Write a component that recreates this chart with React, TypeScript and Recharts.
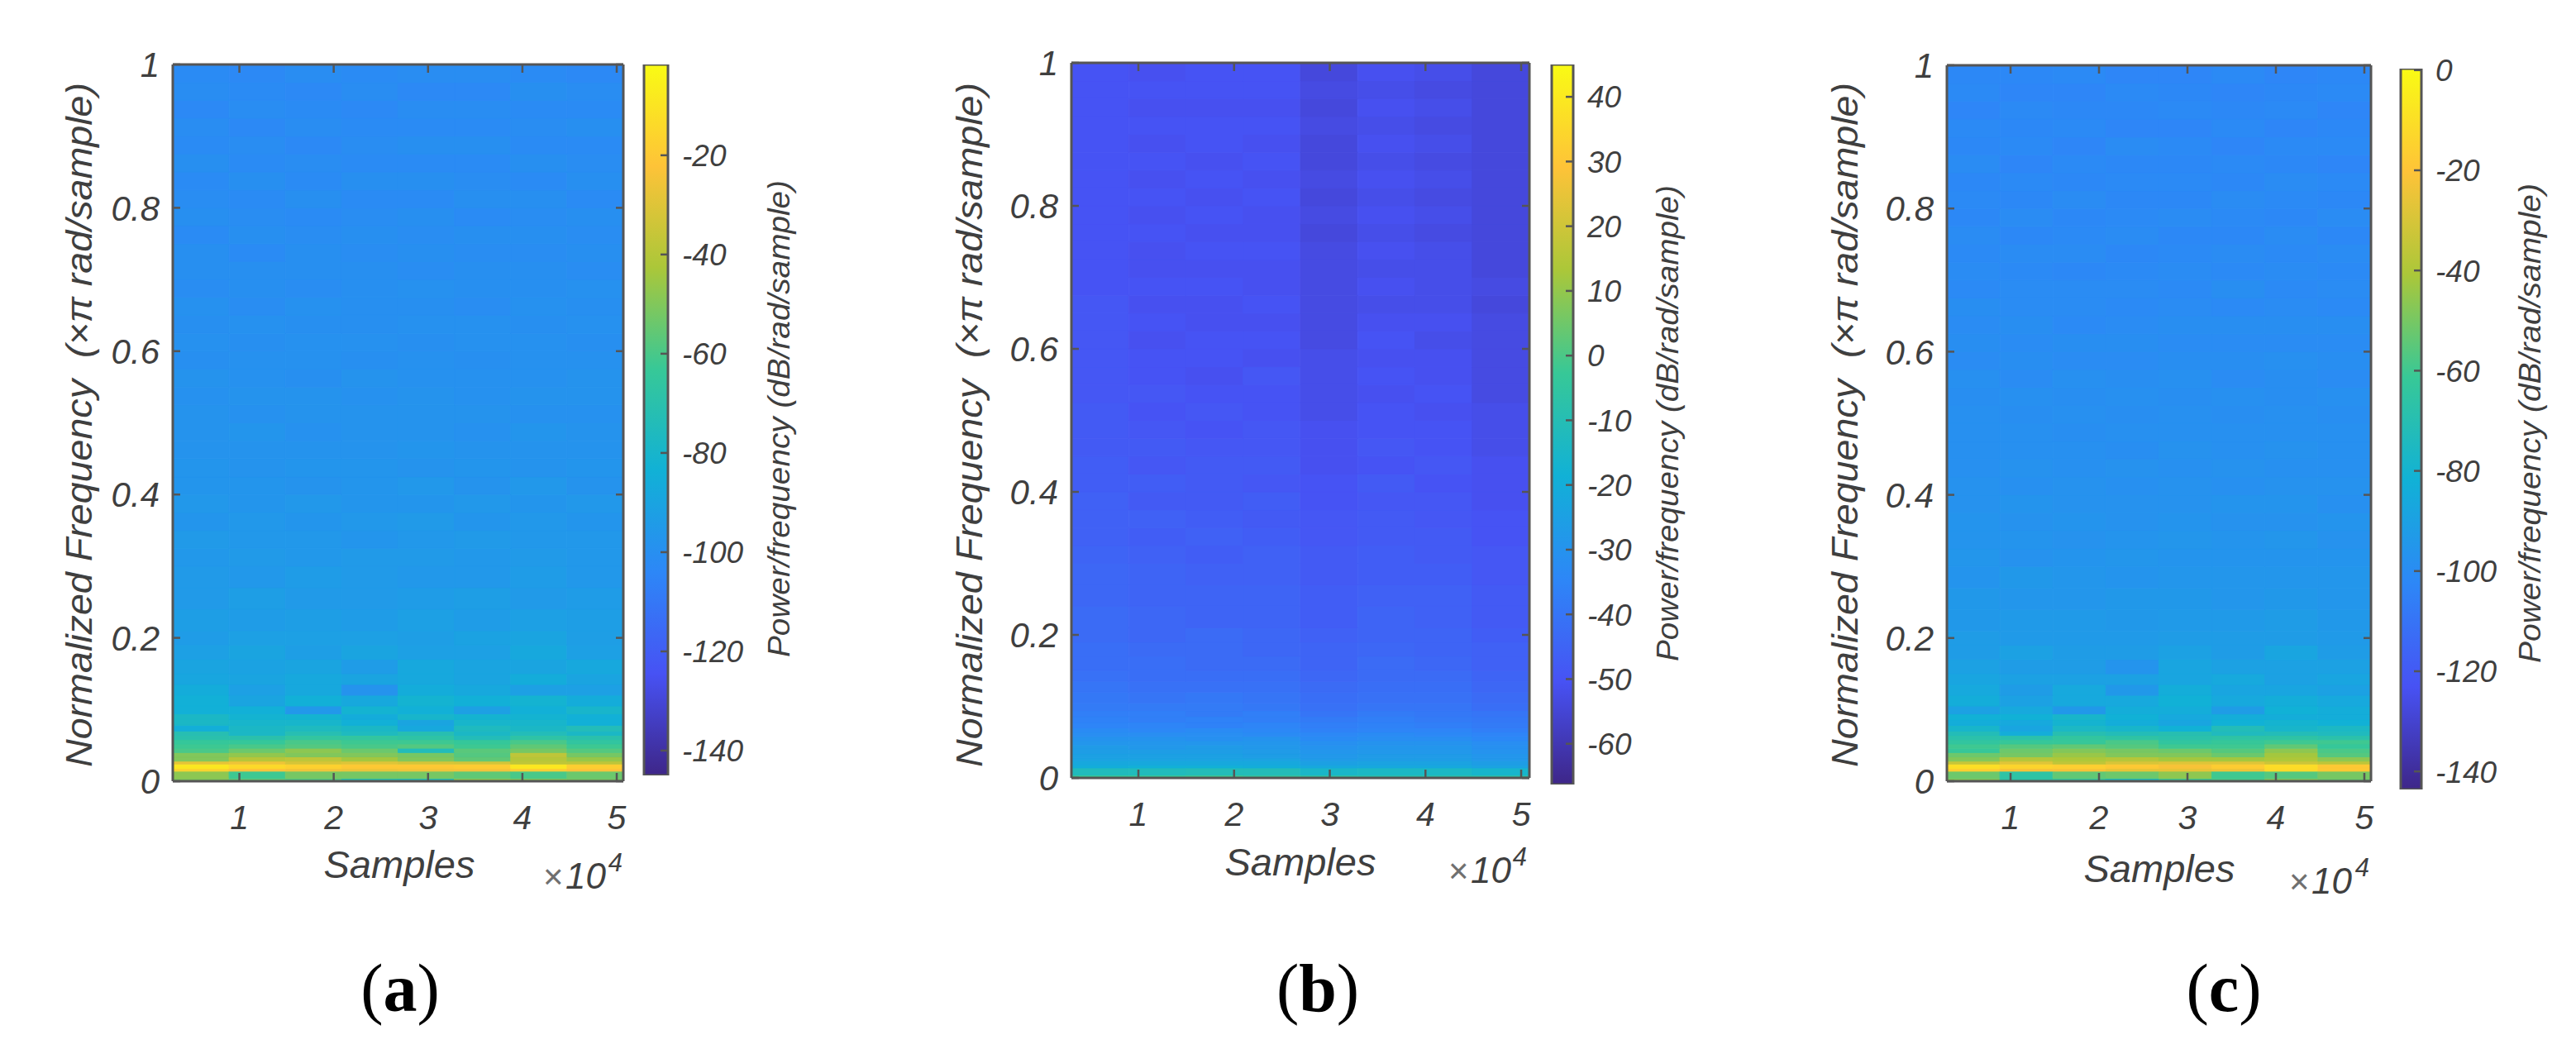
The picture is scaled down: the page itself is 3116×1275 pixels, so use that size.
import React from "react";
import { ComposedChart, Bar, Cell, XAxis, YAxis, Label } from "recharts";

const PARULA = ["#3E2688", "#4752F4", "#2D87F7", "#11B1D6", "#37C897", "#ABC739", "#FEC338", "#F9FB14"];
const FREQ_EDGES = [0, 0.004, 0.014, 0.018, 0.024, 0.028, 0.034, 0.04, 0.046, 0.052, 0.058, 0.064, 0.07, 0.078, 0.086, 0.094, 0.105, 0.12, 0.135, 0.15, 0.17, 0.19, 0.21, 0.24, 0.27, 0.3, 0.325, 0.35, 0.375, 0.4, 0.425, 0.45, 0.475, 0.5, 0.525, 0.55, 0.575, 0.6, 0.625, 0.65, 0.675, 0.7, 0.725, 0.75, 0.775, 0.8, 0.825, 0.85, 0.875, 0.9, 0.925, 0.95, 0.975, 1];
const COLUMNS = ["c1", "c2", "c3", "c4", "c5", "c6", "c7", "c8"];
const SAMPLE_CENTERS = [0.59, 1.19, 1.79, 2.39, 2.98, 3.58, 4.18, 4.77];
const X_TICKS = [1, 2, 3, 4, 5];
const Y_TICKS = [0, 0.2, 0.4, 0.6, 0.8, 1];
const COLORBAR_TICKS_A = [-140, -120, -100, -80, -60, -40, -20];
const COLORBAR_TICKS_B = [-60, -50, -40, -30, -20, -10, 0, 10, 20, 30, 40];
const COLORBAR_TICKS_C = [-140, -120, -100, -80, -60, -40, -20, 0];

const POWER_A = [
  [-50, -56, -58, -70, -72, -48, -50, -52],
  [-48, -62, -52, -52, -52, -56, -60, -54],
  [-16, -22, -25, -26, -25, -24, -18, -22],
  [-9, -14, -17, -20, -20, -19, -9, -18],
  [-28, -26, -32, -30, -32, -33, -38, -38],
  [-50, -40, -38, -44, -50, -56, -40, -46],
  [-50, -47, -50, -50, -52, -58, -38, -52],
  [-60, -54, -48, -54, -74, -57, -52, -58],
  [-62, -60, -58, -60, -58, -62, -56, -62],
  [-64, -64, -60, -62, -62, -64, -60, -66],
  [-70, -70, -66, -66, -68, -74, -68, -70],
  [-72, -78, -72, -76, -72, -78, -74, -78],
  [-85, -78, -76, -78, -88, -76, -78, -74],
  [-78, -80, -80, -84, -90, -80, -80, -84],
  [-78, -82, -82, -86, -80, -82, -82, -84],
  [-84, -84, -96, -82, -84, -92, -84, -80],
  [-84, -90, -84, -88, -82, -84, -82, -86],
  [-86, -92, -88, -98, -86, -88, -92, -92],
  [-89, -90, -88, -90, -88, -90, -86, -90],
  [-90, -91, -90, -94, -88, -90, -90, -88],
  [-92, -90, -93, -90, -92, -92, -88, -92],
  [-94, -92, -92, -92, -93, -91, -90, -93],
  [-93, -94, -93, -94, -92, -94, -92, -93],
  [-95, -93, -95, -95, -94, -93, -95, -94],
  [-95, -96, -94, -95, -96, -96, -94, -96],
  [-96, -95, -96, -95, -95, -96, -95, -96],
  [-95, -96, -96, -97, -96, -95, -96, -96],
  [-97, -96, -97, -96, -95, -97, -96, -97],
  [-96, -97, -96, -97, -97, -96, -97, -96],
  [-97, -97, -98, -97, -96, -98, -96, -98],
  [-97, -98, -97, -97, -98, -97, -98, -97],
  [-98, -98, -98, -98, -97, -98, -98, -98],
  [-98, -97, -99, -98, -98, -99, -97, -98],
  [-98, -99, -98, -98, -98, -98, -99, -99],
  [-99, -98, -98, -99, -98, -99, -98, -98],
  [-98, -99, -100, -98, -99, -99, -99, -98],
  [-100, -99, -99, -100, -99, -100, -99, -99],
  [-99, -100, -99, -99, -100, -99, -99, -100],
  [-100, -99, -100, -100, -99, -99, -100, -99],
  [-99, -101, -99, -100, -100, -101, -99, -100],
  [-101, -100, -101, -100, -99, -100, -100, -99],
  [-100, -100, -100, -100, -101, -100, -100, -101],
  [-100, -102, -100, -101, -100, -101, -101, -100],
  [-102, -100, -101, -100, -101, -100, -100, -101],
  [-100, -101, -102, -101, -100, -102, -101, -100],
  [-101, -102, -100, -102, -102, -100, -100, -102],
  [-102, -100, -102, -100, -100, -101, -102, -100],
  [-100, -102, -101, -102, -102, -102, -100, -101],
  [-102, -101, -103, -101, -100, -100, -102, -102],
  [-101, -103, -101, -102, -102, -102, -101, -100],
  [-103, -101, -102, -103, -101, -101, -102, -102],
  [-101, -102, -103, -101, -103, -103, -100, -101],
  [-102, -103, -101, -102, -101, -101, -102, -103],
];

const POWER_B = [
  [-3, -3, -2, -4, -6, -8, -8, -8],
  [-12, -12, -11, -11, -15, -14, -14, -16],
  [-20, -19, -19, -20, -22, -22, -22, -24],
  [-22, -22, -22, -22, -25, -24, -24, -26],
  [-24, -24, -24, -24, -27, -26, -26, -28],
  [-25, -25, -25, -26, -28, -27, -27, -29],
  [-26, -26, -26, -27, -29, -28, -28, -30],
  [-27, -28, -27, -28, -30, -29, -29, -31],
  [-29, -29, -29, -29, -31, -30, -30, -32],
  [-30, -30, -31, -30, -33, -32, -32, -34],
  [-32, -32, -32, -33, -34, -33, -34, -35],
  [-33, -34, -33, -34, -36, -35, -35, -37],
  [-35, -35, -36, -35, -37, -36, -37, -38],
  [-36, -37, -36, -37, -38, -37, -38, -39],
  [-37, -37, -38, -37, -40, -38, -39, -40],
  [-38, -38, -38, -39, -41, -40, -40, -42],
  [-39, -40, -39, -40, -42, -41, -41, -43],
  [-40, -41, -41, -41, -43, -42, -42, -44],
  [-41, -42, -42, -42, -44, -43, -43, -45],
  [-42, -42, -43, -43, -45, -43, -44, -46],
  [-42, -43, -43, -44, -45, -44, -45, -46],
  [-43, -44, -43, -44, -46, -45, -45, -47],
  [-43, -44, -45, -45, -47, -45, -46, -48],
  [-44, -45, -45, -45, -47, -46, -46, -48],
  [-44, -45, -46, -46, -48, -47, -47, -49],
  [-45, -46, -47, -46, -48, -47, -48, -49],
  [-46, -47, -46, -47, -49, -48, -48, -50],
  [-46, -46, -47, -48, -49, -48, -49, -50],
  [-46, -48, -48, -47, -50, -49, -49, -51],
  [-47, -47, -48, -49, -50, -48, -50, -51],
  [-47, -49, -48, -48, -51, -50, -49, -51],
  [-48, -48, -49, -49, -51, -49, -50, -52],
  [-48, -49, -50, -49, -51, -50, -50, -52],
  [-48, -50, -49, -50, -52, -50, -51, -52],
  [-49, -49, -50, -50, -52, -51, -50, -53],
  [-49, -50, -51, -49, -52, -50, -51, -53],
  [-49, -50, -50, -51, -52, -51, -51, -53],
  [-49, -51, -50, -50, -53, -50, -52, -53],
  [-49, -50, -51, -51, -53, -51, -51, -53],
  [-49, -51, -51, -50, -53, -52, -52, -54],
  [-50, -50, -50, -51, -53, -51, -52, -53],
  [-50, -51, -51, -51, -53, -52, -52, -54],
  [-50, -51, -50, -50, -53, -51, -52, -54],
  [-50, -50, -51, -51, -54, -52, -53, -54],
  [-50, -51, -50, -51, -53, -51, -52, -54],
  [-50, -50, -51, -50, -54, -52, -53, -54],
  [-50, -51, -50, -51, -53, -51, -52, -54],
  [-50, -50, -51, -50, -54, -52, -53, -54],
  [-50, -51, -50, -51, -54, -51, -52, -54],
  [-50, -50, -50, -50, -53, -52, -53, -54],
  [-50, -51, -51, -51, -54, -51, -52, -54],
  [-50, -50, -50, -50, -53, -52, -53, -54],
  [-50, -51, -50, -50, -54, -51, -52, -54],
];

const POWER_C = [
  [-48, -66, -62, -72, -60, -58, -48, -52],
  [-52, -66, -54, -52, -46, -60, -56, -50],
  [-16, -22, -22, -26, -26, -24, -12, -18],
  [-10, -14, -16, -18, -22, -17, -11, -18],
  [-34, -28, -36, -30, -28, -28, -33, -36],
  [-48, -38, -40, -38, -42, -42, -40, -46],
  [-52, -50, -44, -48, -48, -52, -42, -56],
  [-62, -52, -48, -50, -52, -56, -46, -58],
  [-60, -56, -54, -56, -60, -60, -54, -62],
  [-64, -62, -62, -58, -64, -62, -60, -60],
  [-68, -68, -64, -66, -68, -66, -66, -68],
  [-72, -84, -70, -72, -70, -74, -72, -74],
  [-78, -88, -76, -78, -82, -72, -78, -76],
  [-84, -86, -80, -84, -88, -82, -80, -82],
  [-82, -82, -78, -82, -86, -84, -84, -84],
  [-90, -86, -94, -84, -84, -92, -82, -84],
  [-84, -90, -86, -86, -82, -86, -84, -86],
  [-86, -92, -86, -94, -84, -88, -88, -90],
  [-88, -90, -90, -90, -88, -86, -90, -88],
  [-90, -92, -92, -96, -88, -90, -90, -90],
  [-92, -90, -92, -92, -90, -92, -88, -92],
  [-92, -93, -93, -93, -92, -92, -92, -93],
  [-94, -93, -93, -94, -93, -93, -92, -94],
  [-94, -95, -95, -94, -94, -95, -94, -95],
  [-96, -94, -95, -96, -95, -95, -95, -95],
  [-95, -97, -96, -95, -96, -96, -96, -96],
  [-96, -96, -97, -96, -95, -96, -95, -97],
  [-96, -97, -96, -97, -96, -97, -97, -96],
  [-97, -96, -97, -97, -97, -96, -96, -98],
  [-97, -98, -97, -98, -97, -98, -97, -97],
  [-98, -97, -98, -97, -98, -97, -98, -98],
  [-98, -98, -98, -99, -97, -98, -97, -98],
  [-98, -98, -99, -98, -98, -98, -98, -98],
  [-98, -99, -98, -99, -98, -99, -98, -99],
  [-99, -98, -99, -98, -99, -98, -99, -98],
  [-98, -100, -98, -99, -98, -100, -99, -100],
  [-100, -99, -100, -100, -99, -99, -98, -99],
  [-99, -100, -99, -99, -100, -100, -100, -100],
  [-100, -99, -101, -100, -99, -99, -99, -99],
  [-99, -100, -100, -101, -100, -101, -100, -101],
  [-101, -100, -100, -100, -101, -99, -101, -100],
  [-100, -101, -102, -101, -100, -101, -100, -101],
  [-101, -100, -100, -102, -101, -100, -101, -100],
  [-100, -102, -101, -100, -102, -102, -100, -102],
  [-102, -100, -102, -101, -100, -101, -102, -100],
  [-101, -102, -100, -102, -102, -100, -101, -102],
  [-102, -101, -102, -101, -101, -102, -100, -101],
  [-100, -103, -101, -102, -102, -101, -102, -103],
  [-102, -101, -103, -100, -101, -103, -101, -101],
  [-101, -102, -101, -103, -103, -101, -103, -102],
  [-103, -101, -102, -102, -101, -102, -101, -103],
  [-101, -103, -103, -101, -102, -103, -102, -101],
  [-102, -102, -101, -103, -103, -101, -103, -102],
];

const INK = "#3f3f3f";
const FRAME = "#555555";
const FONT = "'Liberation Sans', Arial, sans-serif";

function parula(t: number) {
  const c = Math.max(0, Math.min(1, t)) * (PARULA.length - 1);
  const i = Math.min(PARULA.length - 2, Math.floor(c));
  const f = c - i;
  const hex = (s: string, k: number) => parseInt(s.slice(1 + 2 * k, 3 + 2 * k), 16);
  const ch = [0, 1, 2].map((k) => Math.round(hex(PARULA[i], k) * (1 - f) + hex(PARULA[i + 1], k) * f));
  return `rgb(${ch[0]},${ch[1]},${ch[2]})`;
}

const PANELS = [
  {
    id: "a", grid: POWER_A, clim: [-145, -1.7], cbTicks: COLORBAR_TICKS_A,
    plot: { l: 209, r: 754, t: 78, b: 945 }, xDomain: [0.294, 5.07],
    samplesX: 483, samplesY: 1062, expL: 657, expR: 753, expY: 1075, yLabelX: 95,
    bar: { l: 779, r: 808, t: 78, b: 938 }, cbLabelX: 942, cbLabelT: 218, cbLabelB: 795,
    capX: 484,
  },
  {
    id: "b", grid: POWER_B, clim: [-66.3, 45], cbTicks: COLORBAR_TICKS_B,
    plot: { l: 1296, r: 1850, t: 76, b: 941 }, xDomain: [0.3, 5.086],
    samplesX: 1573, samplesY: 1059, expL: 1752, expR: 1847, expY: 1068, yLabelX: 1172,
    bar: { l: 1877, r: 1903, t: 78, b: 949 }, cbLabelX: 2017, cbLabelT: 224, cbLabelB: 800,
    capX: 1594,
  },
  {
    id: "c", grid: POWER_C, clim: [-143.6, 0.3], cbTicks: COLORBAR_TICKS_C,
    plot: { l: 2355, r: 2868, t: 79, b: 945 }, xDomain: [0.28, 5.075],
    samplesX: 2612, samplesY: 1067, expL: 2769, expR: 2866, expY: 1081, yLabelX: 2231,
    bar: { l: 2904, r: 2929, t: 83, b: 955 }, cbLabelX: 3060, cbLabelT: 222, cbLabelB: 802,
    capX: 2690,
  },
];

const Y_LABEL = "Normalized Frequency\u00A0\u00A0(\u00D7\u03C0 rad/sample)";
const CB_LABEL = "Power/frequency (dB/rad/sample)";
const CHART_BOTTOM = 1110;

function HeatPanel({ p }: { p: (typeof PANELS)[number] }) {
  const leftAxis = 200;
  const chartLeft = p.plot.l - leftAxis;
  const chartW = leftAxis + (p.plot.r - p.plot.l) + 4;
  const bottomAxis = 140;
  const data = COLUMNS.map((c, i) => {
    const row: Record<string, string | number> = { col: c, sample: SAMPLE_CENTERS[i] };
    p.grid.forEach((_, r) => { row["r" + r] = FREQ_EDGES[r + 1] - FREQ_EDGES[r]; });
    return row;
  });
  const t = (v: number) => (v - p.clim[0]) / (p.clim[1] - p.clim[0]);
  const bx = (x: number) => x - chartLeft;
  const layer: React.CSSProperties = { position: "absolute", left: chartLeft, top: 0 };
  return (
    <>
      <div style={layer}>
        <ComposedChart
          width={chartW}
          height={CHART_BOTTOM}
          data={data}
          barCategoryGap={0}
          barGap={0}
          margin={{ left: leftAxis, right: 4, top: p.plot.t, bottom: CHART_BOTTOM - p.plot.b }}
        >
          <XAxis xAxisId="cat" dataKey="col" type="category" hide height={0} />
          <YAxis yAxisId="freq" type="number" domain={[0, 1]} allowDataOverflow hide width={0} />
          {p.grid.map((rowVals, r) => (
            <Bar key={r} xAxisId="cat" yAxisId="freq" dataKey={"r" + r} stackId="s" isAnimationActive={false}>
              {rowVals.map((v, c) => (
                <Cell key={c} fill={parula(t(v))} stroke={parula(t(v))} strokeWidth={1} />
              ))}
            </Bar>
          ))}
        </ComposedChart>
      </div>
      <div style={layer}>
        <ComposedChart
          width={chartW}
          height={CHART_BOTTOM}
          data={data}
          margin={{ left: 0, right: 3, top: p.plot.t - 1, bottom: CHART_BOTTOM - p.plot.b - bottomAxis }}
        >
          <YAxis
            yAxisId="freq" type="number" domain={[0, 1]} ticks={Y_TICKS} allowDataOverflow width={leftAxis}
            tickLine={false} tickSize={0} tickMargin={0} interval={0}
            axisLine={{ stroke: FRAME, strokeWidth: 3 }}
            tick={(q: any) => (
              <g>
                <line x1={q.x} x2={q.x + 9} y1={q.y} y2={q.y} stroke={FRAME} strokeWidth={2.5} />
                <text x={q.x - 16} y={q.y} dy="0.36em" textAnchor="end" fontFamily={FONT} fontStyle="italic" fontSize={42} fill={INK}>
                  {q.payload.value}
                </text>
              </g>
            )}
          >
            <Label
              content={() => (
                <text
                  transform={`translate(${bx(p.yLabelX)},${(100 + 928) / 2}) rotate(-90)`}
                  dy="0.35em" textAnchor="middle" fontFamily={FONT} fontStyle="italic" fontSize={45} fill={INK}
                  textLength={828} lengthAdjust="spacingAndGlyphs"
                >
                  {Y_LABEL}
                </text>
              )}
            />
          </YAxis>
          <XAxis
            xAxisId="num" dataKey="sample" type="number" domain={p.xDomain} ticks={X_TICKS} allowDataOverflow height={bottomAxis}
            tickLine={false} tickSize={0} tickMargin={0} interval={0}
            axisLine={{ stroke: FRAME, strokeWidth: 3 }}
            tick={(q: any) => (
              <g>
                <line x1={q.x} x2={q.x} y1={q.y} y2={q.y - 10} stroke={FRAME} strokeWidth={2.5} />
                <text x={q.x} y={q.y + 43} dy="0.36em" textAnchor="middle" fontFamily={FONT} fontStyle="italic" fontSize={41} fill={INK}>
                  {q.payload.value}
                </text>
              </g>
            )}
          >
            <Label
              content={() => (
                <g fontFamily={FONT} fontStyle="italic" fill={INK}>
                  <text x={bx(p.samplesX)} y={p.samplesY} textAnchor="middle" fontSize={46} textLength={183} lengthAdjust="spacingAndGlyphs">Samples</text>
                  <text x={bx(p.expL)} y={p.expY} fontSize={42} fontStyle="normal" fill="#707070">{"\u00D7"}</text>
                  <text x={bx(p.expL) + 27} y={p.expY} fontSize={44}>10</text>
                  <text x={bx(p.expR)} y={p.expY - 21} fontSize={31} textAnchor="end">4</text>
                </g>
              )}
            />
          </XAxis>
          <XAxis
            xAxisId="top" dataKey="sample" orientation="top" type="number" domain={p.xDomain} ticks={X_TICKS} allowDataOverflow height={1}
            tickLine={false} tickSize={0} tickMargin={0} interval={0}
            axisLine={{ stroke: FRAME, strokeWidth: 3 }}
            tick={(q: any) => <line x1={q.x} x2={q.x} y1={q.y} y2={q.y + 10} stroke={FRAME} strokeWidth={2.5} />}
          />
          <YAxis
            yAxisId="right" orientation="right" type="number" domain={[0, 1]} ticks={Y_TICKS} allowDataOverflow width={1}
            tickLine={false} tickSize={0} tickMargin={0} interval={0}
            axisLine={{ stroke: FRAME, strokeWidth: 3 }}
            tick={(q: any) => <line x1={q.x} x2={q.x - 9} y1={q.y} y2={q.y} stroke={FRAME} strokeWidth={2.5} />}
          />
        </ComposedChart>
      </div>
    </>
  );
}

function ColorBar({ p }: { p: (typeof PANELS)[number] }) {
  const pad = 4;
  const chartLeft = p.bar.l - pad;
  const axisW = p.cbLabelX + 30 - p.bar.r;
  const gradId = "cb-" + p.id;
  const tickOverlayData = [{ name: "cb", range: p.clim }];
  return (
    <div style={{ position: "absolute", left: chartLeft, top: 0 }}>
      <ComposedChart
        width={pad + (p.bar.r - p.bar.l) + axisW}
        height={p.bar.b + 6}
        data={tickOverlayData}
        barCategoryGap={0}
        margin={{ left: pad, right: 0, top: p.bar.t, bottom: 6 }}
      >
        <defs>
          <linearGradient id={gradId} x1="0" y1="1" x2="0" y2="0">
            {PARULA.map((c, i) => (
              <stop key={i} offset={i / (PARULA.length - 1)} stopColor={c} />
            ))}
          </linearGradient>
        </defs>
        <XAxis dataKey="name" type="category" hide height={0} />
        <Bar dataKey="range" fill={`url(#${gradId})`} stroke={FRAME} strokeWidth={3} isAnimationActive={false} />
        <YAxis
          orientation="right" type="number" domain={p.clim} ticks={p.cbTicks} allowDataOverflow width={axisW}
          axisLine={false} tickLine={false} tickSize={0} tickMargin={0} interval={0}
          tick={(q: any) => (
            <g>
              <text x={q.x + 17} y={q.y} dy="0.36em" textAnchor="start" fontFamily={FONT} fontStyle="italic" fontSize={37} fill={INK}>
                {q.payload.value}
              </text>
            </g>
          )}
        >
          <Label
            content={() => (
              <text
                transform={`translate(${p.cbLabelX - chartLeft},${(p.cbLabelT + p.cbLabelB) / 2}) rotate(-90)`}
                dy="0.35em" textAnchor="middle" fontFamily={FONT} fontStyle="italic" fontSize={36} fill={INK}
                textLength={p.cbLabelB - p.cbLabelT} lengthAdjust="spacingAndGlyphs"
              >
                {CB_LABEL}
              </text>
            )}
          />
        </YAxis>
      </ComposedChart>
      <div style={{ position: "absolute", left: 0, top: 0 }}>
        <ComposedChart
          width={pad + (p.bar.r - p.bar.l) + axisW}
          height={p.bar.b + 6}
          data={tickOverlayData}
          margin={{ left: pad, right: 0, top: p.bar.t, bottom: 6 }}
        >
          <XAxis dataKey="name" type="category" hide height={0} />
          <YAxis
            orientation="right" type="number" domain={p.clim} ticks={p.cbTicks} allowDataOverflow width={axisW}
            axisLine={false} tickLine={false} tickSize={0} tickMargin={0} interval={0}
            tick={(q: any) => <line x1={q.x} x2={q.x - 9} y1={q.y} y2={q.y} stroke={FRAME} strokeWidth={2.5} />}
          />
        </ComposedChart>
      </div>
    </div>
  );
}

function Caption({ x, id }: { x: number; id: string }) {
  return (
    <div
      style={{
        position: "absolute", left: x - 100, width: 200, top: 1148, textAlign: "center",
        fontFamily: "'Liberation Serif', 'Times New Roman', serif", fontSize: 82, lineHeight: "96px", color: "#000",
      }}
    >
      (<b>{id}</b>)
    </div>
  );
}

export default function App() {
  return (
    <div style={{ position: "absolute", left: 0, top: 0, width: 3116, height: 1275, background: "#fff", overflow: "hidden" }}>
      {PANELS.map((p) => (
        <React.Fragment key={p.id}>
          <HeatPanel p={p} />
          <ColorBar p={p} />
          <Caption x={p.capX} id={p.id} />
        </React.Fragment>
      ))}
    </div>
  );
}
